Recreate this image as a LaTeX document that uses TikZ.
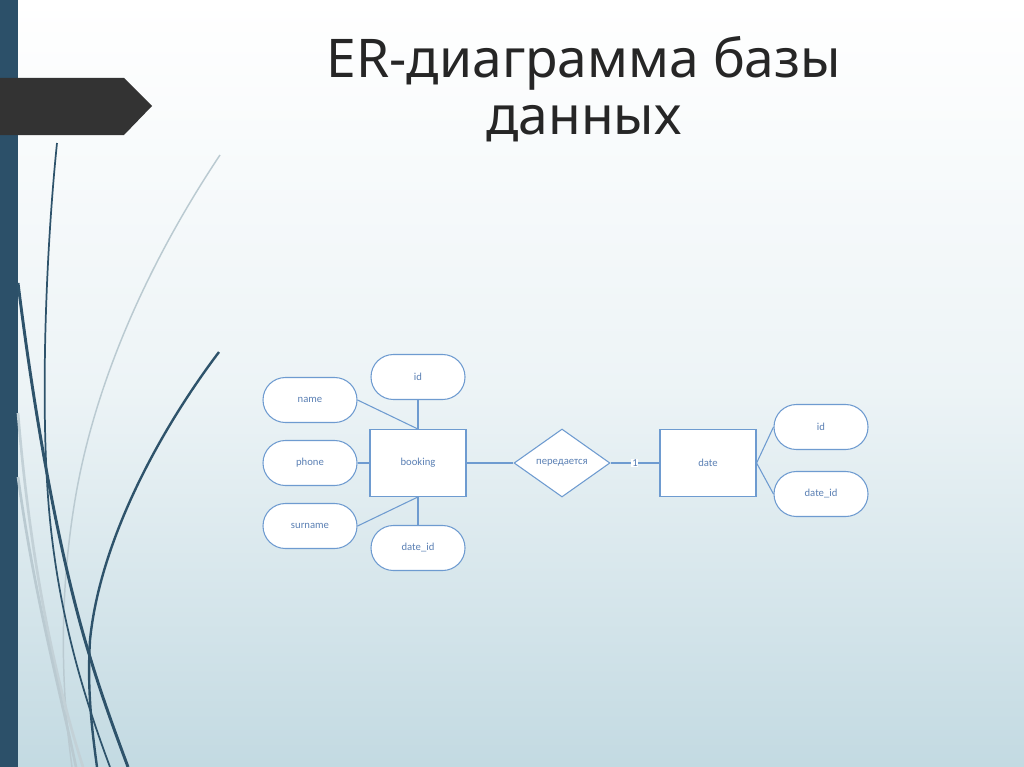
\documentclass[tikz,border=0pt]{standalone}
\usepackage{fontspec}
\setmainfont{Carlito}
\newfontfamily\titlefont{Noto Sans}
\usetikzlibrary{shapes.geometric}
\definecolor{erline}{HTML}{6E9BD0}
\definecolor{ertext}{HTML}{5B80B4}
\definecolor{bar}{HTML}{2C5069}
\definecolor{swoop}{HTML}{2E536B}
\definecolor{swoopgray}{HTML}{A9BDC6}
\definecolor{bgbottom}{HTML}{C3DAE2}
\tikzset{
  attr/.style={draw=erline, line width=0.8pt, fill=white, rounded corners=16.8pt,
    minimum width=70.5pt, minimum height=33.75pt, inner sep=0pt,
    text=ertext, font=\fontsize{8}{9.5}\selectfont},
  entity/.style={draw=erline, line width=0.9pt, fill=white,
    minimum width=72pt, minimum height=50pt, inner sep=0pt,
    text=ertext, font=\fontsize{8}{9.5}\selectfont},
  rel/.style={draw=erline, line width=0.8pt, fill=white, diamond, aspect=1.41,
    minimum width=72pt, minimum height=51pt, inner sep=0pt,
    text=ertext, font=\fontsize{8}{9.5}\selectfont},
  conn/.style={draw=erline, line width=0.8pt},
  card/.style={fill=white, inner sep=0.6pt, text=ertext, font=\fontsize{8}{9.5}\selectfont}
}
\begin{document}
\begin{tikzpicture}[x=0.75pt, y=-0.75pt]
\useasboundingbox (0,0) rectangle (1024,767);
% background
\shade[top color=white, bottom color=bgbottom, middle color=white!70!bgbottom] (0,0) rectangle (1024,767);
% left bar
\fill[bar] (0,0) rectangle (18,767);
% decorative swoops
\draw[swoopgray!80, line width=1.1pt] (220,155) .. controls (150,260) and (95,380) .. (75,500) .. controls (60,590) and (60,680) .. (72,767);
\draw[swoopgray!70, line width=2pt] (18,413) .. controls (30,560) and (55,680) .. (83,767);
\draw[swoopgray!80, line width=2pt] (18,477) .. controls (35,600) and (60,690) .. (76,767);
\draw[swoop, line width=1.3pt] (57,143) .. controls (45,260) and (40,420) .. (50,520) .. controls (60,620) and (85,700) .. (110,767);
\draw[swoop, line width=2.2pt] (18,283) .. controls (35,420) and (60,560) .. (90,657) .. controls (103,700) and (118,740) .. (128,767);
\draw[swoop, line width=1.8pt] (219,352) .. controls (160,430) and (100,540) .. (90,640) .. controls (87,690) and (92,730) .. (97,767);
% dark arrow banner
\fill[black!80] (0,78) -- (124,78) -- (152,106) -- (124,135) -- (0,135) -- cycle;
% title
\node[font=\titlefont\fontsize{40}{43}\selectfont, text=black!85, align=center] (title) at (584,89) {ER-диаграмма базы\\данных};
% ER diagram
\node[entity] (booking) at (418,463) {booking};
\node[attr] (id1) at (418,377) {id};
\node[attr] (name) at (310,400) {name};
\node[attr] (phone) at (310,463) {phone};
\node[attr] (surname) at (310,526) {surname};
\node[attr] (dateid1) at (418,548) {date\_id};
\node[rel] (rel) at (562,463) {передается};
\node[entity] (date) at (708,463) {date};
\node[attr] (id2) at (821,427) {id};
\node[attr] (dateid2) at (821,494) {date\_id};
\draw[conn] (name.east) -- (booking.north);
\draw[conn] (id1.south) -- (booking.north);
\draw[conn] (phone.east) -- (booking.west);
\draw[conn] (surname.east) -- (booking.south);
\draw[conn] (dateid1.north) -- (booking.south);
\draw[conn] (booking.east) -- (rel.west);
\draw[conn] (rel.east) -- node[card] (one) {1} (date.west);
\draw[conn] (date.east) -- (id2.west);
\draw[conn] (date.east) -- (dateid2.west);
\end{tikzpicture}
\end{document}
